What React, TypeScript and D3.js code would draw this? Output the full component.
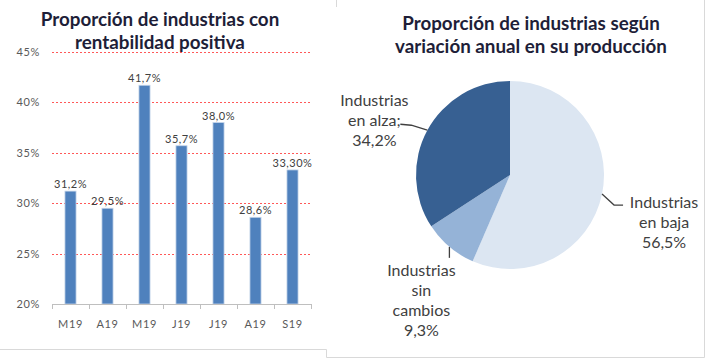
import React from "react";
import * as d3 from "d3";

const months = ["M19", "A19", "M19", "J19", "J19", "A19", "S19"];
const rentabilidad = [31.2, 29.5, 41.7, 35.7, 38.0, 28.6, 33.3];
const barLabels = ["31,2%", "29,5%", "41,7%", "35,7%", "38,0%", "28,6%", "33,30%"];
const yTicks = [20, 25, 30, 35, 40, 45];

const pieNames = [["Industrias", "en baja", "56,5%"], ["Industrias", "sin", "cambios", "9,3%"], ["Industrias", "en alza;", "34,2%"]];
const pieValues = [56.5, 9.3, 34.2];
const pieColors = ["#dce6f2", "#95b3d7", "#376092"];

const FONT = "Lato, 'Open Sans', sans-serif";
const TITLE_COLOR = "#1e1e38";

export default function App() {
  // bar chart
  const x = d3.scaleBand<number>().domain(d3.range(months.length)).range([52, 311]).paddingInner(0.7).paddingOuter(0.35);
  const y = d3.scaleLinear().domain([20, 45]).range([304, 52]);
  const step = x.step();
  const edges = d3.range(months.length + 1).map((i) => 52 + i * step);

  // pie
  const cx = 510, cy = 175, r = 94;
  const pie = d3.pie<number>().sort(null).value((d) => d)(pieValues);
  const arc = d3.arc<d3.PieArcDatum<number>>().innerRadius(0).outerRadius(r);
  const onEdge = (a: d3.PieArcDatum<number>, rad: number) => {
    const m = (a.startAngle + a.endAngle) / 2;
    return [cx + rad * Math.sin(m), cy - rad * Math.cos(m)];
  };

  // leader lines and label anchors, derived from each slice's mid-angle
  const [b0x, b0y] = onEdge(pie[0], r);
  const [s0x, s0y] = onEdge(pie[1], r);
  const [a0x, a0y] = onEdge(pie[2], r);
  const leaders = [
    `M${b0x},${b0y} L${b0x + 12},${b0y + 11} L${b0x + 21},${b0y + 11}`,
    `M${s0x},${s0y} L${s0x},${s0y + 11}`,
    `M${a0x},${a0y} L${a0x - 16},${a0y - 5} L${a0x - 27},${a0y - 6}`,
  ];
  const labelPos = [
    { x: b0x + 62, y: b0y + 14 },
    { x: s0x - 28, y: s0y + 29 },
    { x: a0x - 53, y: a0y - 24 },
  ];

  return (
    <svg width={706} height={359} style={{ position: "absolute", left: 0, top: 0 }} fontFamily={FONT}>
      <rect width={706} height={359} fill="#fff" />
      {/* frames */}
      <path d="M0,349.5 H326.5 V357.5 H704.5 V0" fill="none" stroke="#d9d9d9" strokeWidth={1} />
      <path d="M336.5,0 V7" fill="none" stroke="#d9d9d9" strokeWidth={1} />

      {/* left chart title */}
      <g fill={TITLE_COLOR} fontWeight="bold" fontSize={18.8} textAnchor="middle">
        <text x={160} y={26}>Proporción de industrias con</text>
        <text x={160} y={49}>rentabilidad positiva</text>
      </g>

      {/* grid */}
      {yTicks.filter((t) => t > 20).map((t) => (
        <line key={t} x1={52} x2={311} y1={Math.round(y(t)) + 0.5} y2={Math.round(y(t)) + 0.5} stroke="#ff2020" strokeOpacity={0.75} strokeDasharray="2,2" strokeWidth={1} />
      ))}
      {yTicks.map((t) => (
        <text key={t} x={40} y={y(t) + 4} textAnchor="end" fontSize={11} fill="#595959" letterSpacing={0.6}>{t}%</text>
      ))}

      {/* bars */}
      {rentabilidad.map((v, i) => (
        <g key={i}>
          <rect x={x(i)} y={y(v)} width={x.bandwidth()} height={y(20) - y(v)} fill="#4f81bd" stroke="#c5d5ea" strokeWidth={0.8} />
          <text x={(x(i) as number) + x.bandwidth() / 2} y={y(v) - 3} textAnchor="middle" fontSize={11} fill="#404040" letterSpacing={0.5}>{barLabels[i]}</text>
          <text x={(x(i) as number) + x.bandwidth() / 2} y={328} textAnchor="middle" fontSize={11} fill="#595959" letterSpacing={0.6}>{months[i]}</text>
        </g>
      ))}
      <line x1={52} x2={311} y1={304.5} y2={304.5} stroke="#bfbfbf" />
      {edges.map((e, i) => (
        <line key={i} x1={Math.round(e) + 0.5} x2={Math.round(e) + 0.5} y1={304} y2={309} stroke="#bfbfbf" />
      ))}

      {/* right chart title */}
      <g fill={TITLE_COLOR} fontWeight="bold" fontSize={18.8} textAnchor="middle">
        <text x={531} y={30}>Proporción de industrias según</text>
        <text x={531} y={53}>variación anual en su producción</text>
      </g>

      {/* pie */}
      <g transform={`translate(${cx},${cy})`}>
        {pie.map((a, i) => (
          <path key={i} d={arc(a) as string} fill={pieColors[i]} />
        ))}
      </g>
      {leaders.map((d, i) => (
        <path key={i} d={d} fill="none" stroke="#404040" strokeWidth={1.3} />
      ))}
      {pieNames.map((lines, i) => (
        <text key={i} textAnchor="middle" fontSize={16} fill="#404040">
          {lines.map((l, j) => (
            <tspan key={j} x={labelPos[i].x} y={labelPos[i].y + j * 20}>{l}</tspan>
          ))}
        </text>
      ))}
    </svg>
  );
}
